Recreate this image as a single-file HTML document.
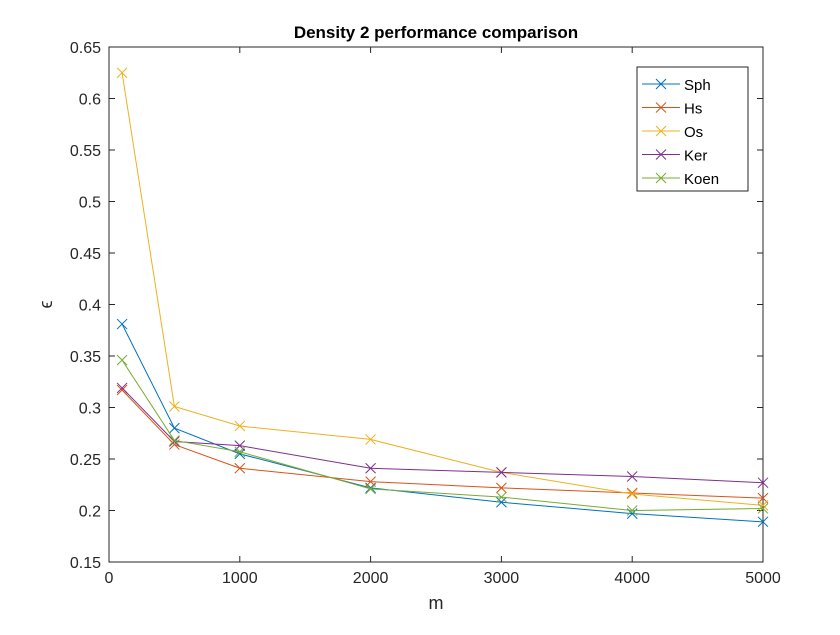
<!DOCTYPE html>
<html><head><meta charset="utf-8"><style>
body{margin:0;background:#fff;font-family:"Liberation Sans",Arial,sans-serif}
svg text{font-family:"Liberation Sans",Arial,sans-serif}
</style></head><body>
<svg id="chart" width="840" height="630">
<rect width="840" height="630" fill="#fff"/>
<text x="436" y="38" text-anchor="middle" font-size="17" font-weight="bold" fill="#000">Density 2 performance comparison</text>
<g id="axes"></g>
<g id="series"></g>
<g id="legend"></g>
</svg>
<script>
const xVals=[100,500,1000,2000,3000,4000,5000];
const seriesNames=["Sph","Hs","Os","Ker","Koen"];
const sph=[0.381,0.280,0.255,0.222,0.208,0.197,0.189];
const hs=[0.317,0.264,0.241,0.228,0.222,0.217,0.212];
const os=[0.625,0.301,0.282,0.269,0.237,0.216,0.205];
const ker=[0.319,0.267,0.263,0.241,0.237,0.233,0.227];
const koen=[0.346,0.268,0.257,0.221,0.213,0.200,0.202];
const xTicks=[0,1000,2000,3000,4000,5000];
const yTicks=[0.15,0.2,0.25,0.3,0.35,0.4,0.45,0.5,0.55,0.6,0.65];
const yTickLabels=["0.15","0.2","0.25","0.3","0.35","0.4","0.45","0.5","0.55","0.6","0.65"];
const colors=["#0072BD","#D95319","#EDB120","#7E2F8E","#77AC30"];
const L=109,R=763,T=47,B=562;
const sx=v=>L+(v-0)/(5000-0)*(R-L);
const sy=v=>B-(v-0.15)/(0.65-0.15)*(B-T);
const NS="http://www.w3.org/2000/svg";
function mk(tag,attrs,parent){const e=document.createElementNS(NS,tag);for(const k in attrs)e.setAttribute(k,attrs[k]);parent.appendChild(e);return e;}
const ax=document.getElementById('axes');
const box=mk('rect',{x:L,y:T,width:R-L,height:B-T,fill:'none',stroke:'#262626','stroke-width':1},ax);


xTicks.forEach(t=>{
  const x=sx(t);
  mk('line',{x1:x,y1:B,x2:x,y2:B-6,stroke:'#262626'},ax);
  mk('line',{x1:x,y1:T,x2:x,y2:T+6,stroke:'#262626'},ax);
  const tx=mk('text',{x:x,y:B+21,'text-anchor':'middle','font-size':16,fill:'#262626'},ax);
  tx.textContent=t;
  
  
});
yTicks.forEach((t,i)=>{
  const y=sy(t);
  mk('line',{x1:L,y1:y,x2:L+6,y2:y,stroke:'#262626'},ax);
  mk('line',{x1:R,y1:y,x2:R-6,y2:y,stroke:'#262626'},ax);
  const tx=mk('text',{x:L-8,y:y+6,'text-anchor':'end','font-size':16,fill:'#262626'},ax);
  tx.textContent=yTickLabels[i];
  
  
});
const xl=mk('text',{x:(L+R)/2,y:B+47,'text-anchor':'middle','font-size':18,fill:'#262626'},ax);
xl.textContent='m';


const yl=mk('text',{x:52,y:(T+B)/2,'text-anchor':'middle','font-size':18,fill:'#262626',transform:`rotate(-90 52 ${(T+B)/2})`},ax);
yl.textContent='ϵ';


const allSeries=[sph,hs,os,ker,koen];
const sg=document.getElementById('series');
function cross(x,y,c,p){mk('path',{d:`M${x-5},${y-5}L${x+5},${y+5}M${x-5},${y+5}L${x+5},${y-5}`,stroke:c,'stroke-width':1,fill:'none'},p);}
allSeries.forEach((vals,si)=>{
  const g=mk('g',{},sg);
  
  
  const pts=vals.map((v,i)=>sx(xVals[i])+','+sy(v)).join(' ');
  mk('polyline',{points:pts,fill:'none',stroke:colors[si],'stroke-width':1},g);
  vals.forEach((v,i)=>cross(sx(xVals[i]),sy(v),colors[si],g));
});
const lg=document.getElementById('legend');
const lb=mk('rect',{x:637,y:67,width:111,height:124,fill:'#fff',stroke:'#262626'},lg);


seriesNames.forEach((n,i)=>{
  const y=84+i*23.5;
  const g=mk('g',{},lg);
  
  
  mk('line',{x1:642,y1:y,x2:680,y2:y,stroke:colors[i]},g);
  cross(661,y,colors[i],g);
  const t=mk('text',{x:684,y:y+6,'font-size':15,fill:'#000'},g);
  t.textContent=n;
});
</script>
</body></html>
